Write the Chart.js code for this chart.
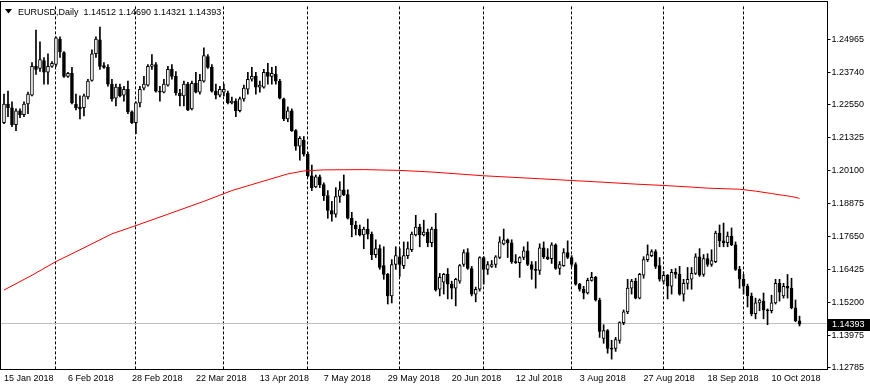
<!DOCTYPE html>
<html>
<head>
<meta charset="utf-8">
<script src="https://cdn.jsdelivr.net/npm/chart.js@4.4.0/dist/chart.umd.min.js"></script>
<style>
  html, body { margin: 0; padding: 0; background: #fff; }
  #wrap { width: 870px; height: 390px; }
</style>
</head>
<body>
<div id="wrap"><canvas id="myChart"></canvas></div>
<script>
// EURUSD daily candles (200 bars from 15 Jan 2018)
var open = [1.2189,1.2258,1.2244,1.2181,1.2233,1.2218,1.2258,1.2291,1.2398,1.2390,
  1.2420,1.2376,1.2398,1.2405,1.2500,1.2449,1.2361,1.2372,1.2258,1.2247,
  1.2244,1.2284,1.2346,1.2445,1.2497,1.2401,1.2394,1.2332,1.2280,1.2321,
  1.2291,1.2313,1.2229,1.2189,1.2262,1.2317,1.2328,1.2398,1.2405,1.2306,
  1.2302,1.2328,1.2387,1.2361,1.2299,1.2288,1.2332,1.2240,1.2335,1.2302,
  1.2343,1.2434,1.2394,1.2306,1.2291,1.2302,1.2299,1.2262,1.2269,1.2233,
  1.2277,1.2313,1.2350,1.2361,1.2321,1.2321,1.2376,1.2361,1.2368,1.2343,
  1.2277,1.2203,1.2233,1.2159,1.2101,1.2123,1.2071,1.1991,1.1950,1.1987,
  1.1958,1.1917,1.1862,1.1848,1.1914,1.1939,1.1921,1.1833,1.1808,1.1793,
  1.1771,1.1793,1.1774,1.1698,1.1720,1.1657,1.1624,1.1544,1.1661,1.1690,
  1.1657,1.1694,1.1716,1.1771,1.1800,1.1771,1.1782,1.1742,1.1793,1.1569,
  1.1595,1.1624,1.1588,1.1573,1.1599,1.1661,1.1705,1.1646,1.1551,1.1569,
  1.1687,1.1643,1.1654,1.1661,1.1687,1.1738,1.1753,1.1742,1.1672,1.1668,
  1.1687,1.1712,1.1661,1.1643,1.1639,1.1723,1.1690,1.1683,1.1734,1.1646,
  1.1657,1.1705,1.1687,1.1661,1.1588,1.1569,1.1555,1.1602,1.1613,1.1529,
  1.1386,1.1415,1.1349,1.1349,1.1379,1.1445,1.1485,1.1573,1.1599,1.1536,
  1.1621,1.1679,1.1694,1.1709,1.1657,1.1599,1.1621,1.1580,1.1632,1.1624,
  1.1551,1.1591,1.1606,1.1628,1.1690,1.1624,1.1683,1.1661,1.1672,1.1778,
  1.1749,1.1742,1.1767,1.1734,1.1643,1.1606,1.1580,1.1544,1.1478,1.1518,
  1.1525,1.1492,1.1489,1.1518,1.1591,1.1544,1.1580,1.1573,1.1500,1.14512];
var high = [1.2295,1.2306,1.2266,1.2240,1.2240,1.2266,1.2302,1.2412,1.2533,1.2489,
  1.2431,1.2445,1.2416,1.2508,1.2508,1.2453,1.2376,1.2394,1.2295,1.2288,
  1.2295,1.2350,1.2460,1.2508,1.2544,1.2412,1.2405,1.2350,1.2332,1.2332,
  1.2324,1.2343,1.2233,1.2266,1.2324,1.2361,1.2405,1.2442,1.2412,1.2324,
  1.2350,1.2398,1.2405,1.2379,1.2313,1.2343,1.2339,1.2343,1.2376,1.2368,
  1.2467,1.2442,1.2405,1.2332,1.2324,1.2332,1.2306,1.2284,1.2277,1.2284,
  1.2328,1.2376,1.2394,1.2376,1.2343,1.2387,1.2409,1.2394,1.2398,1.2350,
  1.2280,1.2247,1.2240,1.2163,1.2137,1.2137,1.2079,1.2031,1.1994,1.1994,
  1.1965,1.1936,1.1896,1.1947,1.1969,1.1994,1.1939,1.1855,1.1822,1.1808,
  1.1800,1.1830,1.1782,1.1753,1.1734,1.1727,1.1628,1.1679,1.1727,1.1720,
  1.1745,1.1745,1.1782,1.1844,1.1811,1.1826,1.1793,1.1800,1.1851,1.1628,
  1.1628,1.1646,1.1599,1.1610,1.1661,1.1716,1.1720,1.1654,1.1577,1.1690,
  1.1690,1.1672,1.1676,1.1694,1.1764,1.1793,1.1756,1.1753,1.1698,1.1690,
  1.1727,1.1745,1.1672,1.1672,1.1738,1.1745,1.1720,1.1742,1.1738,1.1672,
  1.1720,1.1749,1.1694,1.1668,1.1591,1.1580,1.1610,1.1632,1.1617,1.1536,
  1.1437,1.1419,1.1379,1.1390,1.1448,1.1492,1.1606,1.1606,1.1610,1.1628,
  1.1690,1.1734,1.1716,1.1716,1.1687,1.1635,1.1624,1.1643,1.1646,1.1654,
  1.1606,1.1650,1.1650,1.1701,1.1720,1.1698,1.1701,1.1716,1.1785,1.1808,
  1.1815,1.1782,1.1797,1.1745,1.1654,1.1624,1.1588,1.1555,1.1536,1.1533,
  1.1555,1.1496,1.1547,1.1606,1.1606,1.1591,1.1624,1.1610,1.1529,1.14690];
var low = [1.2185,1.2211,1.2174,1.2159,1.2207,1.2211,1.2222,1.2288,1.2368,1.2379,
  1.2332,1.2332,1.2394,1.2398,1.2431,1.2357,1.2357,1.2258,1.2236,1.2203,
  1.2214,1.2277,1.2343,1.2431,1.2387,1.2390,1.2324,1.2269,1.2251,1.2284,
  1.2269,1.2222,1.2185,1.2148,1.2247,1.2310,1.2324,1.2387,1.2302,1.2269,
  1.2299,1.2324,1.2350,1.2291,1.2251,1.2251,1.2233,1.2236,1.2299,1.2295,
  1.2339,1.2390,1.2302,1.2277,1.2284,1.2288,1.2258,1.2258,1.2211,1.2229,
  1.2269,1.2295,1.2343,1.2295,1.2302,1.2317,1.2332,1.2332,1.2332,1.2277,
  1.2196,1.2192,1.2156,1.2086,1.2049,1.2064,1.1987,1.1936,1.1947,1.1947,
  1.1899,1.1833,1.1822,1.1837,1.1892,1.1917,1.1830,1.1764,1.1771,1.1767,
  1.1720,1.1756,1.1679,1.1687,1.1643,1.1606,1.1514,1.1518,1.1643,1.1617,
  1.1646,1.1683,1.1709,1.1767,1.1727,1.1767,1.1727,1.1727,1.1562,1.1544,
  1.1551,1.1533,1.1533,1.1507,1.1591,1.1654,1.1643,1.1544,1.1522,1.1562,
  1.1588,1.1624,1.1650,1.1650,1.1683,1.1734,1.1687,1.1665,1.1665,1.1613,
  1.1679,1.1657,1.1606,1.1573,1.1624,1.1683,1.1679,1.1665,1.1643,1.1624,
  1.1654,1.1683,1.1654,1.1584,1.1562,1.1533,1.1551,1.1599,1.1525,1.1390,
  1.1368,1.1331,1.1309,1.1338,1.1368,1.1437,1.1478,1.1551,1.1533,1.1533,
  1.1610,1.1672,1.1690,1.1646,1.1599,1.1588,1.1533,1.1551,1.1610,1.1547,
  1.1525,1.1569,1.1569,1.1624,1.1617,1.1617,1.1654,1.1654,1.1668,1.1727,
  1.1727,1.1727,1.1731,1.1639,1.1573,1.1551,1.1503,1.1470,1.1459,1.1489,
  1.1459,1.1437,1.1481,1.1514,1.1525,1.1536,1.1536,1.1496,1.1448,1.14321];
var close = [1.2258,1.2244,1.2181,1.2233,1.2218,1.2258,1.2295,1.2398,1.2387,1.2423,
  1.2376,1.2398,1.2409,1.2504,1.2453,1.2361,1.2372,1.2262,1.2244,1.2240,
  1.2288,1.2343,1.2445,1.2500,1.2398,1.2394,1.2332,1.2277,1.2321,1.2288,
  1.2313,1.2229,1.2189,1.2262,1.2313,1.2332,1.2398,1.2405,1.2306,1.2302,
  1.2332,1.2387,1.2361,1.2299,1.2288,1.2332,1.2236,1.2335,1.2302,1.2346,
  1.2438,1.2394,1.2306,1.2291,1.2313,1.2313,1.2262,1.2269,1.2233,1.2277,
  1.2317,1.2350,1.2361,1.2321,1.2328,1.2376,1.2361,1.2372,1.2343,1.2280,
  1.2203,1.2233,1.2159,1.2101,1.2130,1.2071,1.1991,1.1947,1.1987,1.1958,
  1.1917,1.1862,1.1848,1.1914,1.1939,1.1921,1.1833,1.1808,1.1793,1.1771,
  1.1793,1.1774,1.1698,1.1720,1.1650,1.1624,1.1544,1.1661,1.1694,1.1661,
  1.1694,1.1720,1.1774,1.1800,1.1771,1.1782,1.1742,1.1793,1.1566,1.1613,
  1.1624,1.1588,1.1573,1.1606,1.1657,1.1705,1.1646,1.1551,1.1569,1.1687,
  1.1643,1.1661,1.1661,1.1690,1.1745,1.1753,1.1742,1.1672,1.1668,1.1687,
  1.1712,1.1661,1.1643,1.1639,1.1723,1.1690,1.1683,1.1734,1.1646,1.1661,
  1.1705,1.1687,1.1661,1.1588,1.1569,1.1555,1.1602,1.1613,1.1529,1.1412,
  1.1415,1.1349,1.1346,1.1382,1.1445,1.1485,1.1573,1.1599,1.1536,1.1624,
  1.1679,1.1698,1.1709,1.1654,1.1606,1.1621,1.1580,1.1632,1.1624,1.1551,
  1.1591,1.1606,1.1628,1.1690,1.1621,1.1683,1.1661,1.1676,1.1778,1.1749,
  1.1742,1.1767,1.1734,1.1643,1.1606,1.1580,1.1544,1.1478,1.1518,1.1529,
  1.1492,1.1489,1.1518,1.1591,1.1558,1.1580,1.1573,1.1500,1.1452,1.14393];

// red moving average, read at these bar numbers
var maBar = [0,7,13,20,27,34,41,50,57,66,71,75,80,90,99,107,120,134,150,158,165,172,176,184,188,192,195,197,199];
var maValue = [1.1566,1.1621,1.1672,1.1723,1.1775,1.1811,1.1848,1.1896,1.1936,1.1976,1.1998,1.2009,1.2013,1.2014,1.2011,1.2005,1.1991,1.1980,1.1967,1.1960,1.1955,1.1949,1.1945,1.1941,1.1934,1.1925,1.1918,1.1914,1.1907];

var yTicks = [1.24965,1.23740,1.22550,1.21325,1.20100,1.18875,1.17650,1.16425,1.15200,1.13975,1.12785];
var tickLabels = ["15 Jan 2018","6 Feb 2018","28 Feb 2018","22 Mar 2018","13 Apr 2018","7 May 2018","29 May 2018",
  "20 Jun 2018","12 Jul 2018","3 Aug 2018","27 Aug 2018","18 Sep 2018","10 Oct 2018"];
var title = "EURUSD,Daily  1.14512 1.14690 1.14321 1.14393";

var monthNames = ["Jan","Feb","Mar","Apr","May","Jun","Jul","Aug","Sep","Oct","Nov","Dec"];
var dates = [];
var d = new Date(Date.UTC(2018, 0, 15));
while (dates.length < open.length) {
  var wd = d.getUTCDay();
  if (wd != 0 && wd != 6) dates.push(d.getUTCDate() + " " + monthNames[d.getUTCMonth()] + " " + d.getUTCFullYear());
  d.setUTCDate(d.getUTCDate() + 1);
}
// empty room on the right like the terminal shift
var labels = dates.concat(["", "", "", "", "", "", ""]);

function monthStart(i) {
  if (i < 1 || i >= dates.length) return false;
  return dates[i].split(" ")[1] != dates[i - 1].split(" ")[1];
}

var FONT = "Liberation Sans";

var mtPlugin = {
  id: "mt",
  beforeDatasetsDraw: function (chart) {
    var ctx = chart.ctx, a = chart.chartArea;
    var y = Math.round(chart.scales.y.getPixelForValue(close[close.length - 1])) - 0.5;
    ctx.save();
    ctx.strokeStyle = "#c0c0c0";
    ctx.lineWidth = 1;
    ctx.beginPath();
    ctx.moveTo(0, y);
    ctx.lineTo(a.right + 1, y);
    ctx.stroke();
    ctx.restore();
  },
  afterDraw: function (chart) {
    var ctx = chart.ctx, a = chart.chartArea;
    ctx.save();
    ctx.strokeStyle = "#000";
    ctx.lineWidth = 1;
    ctx.strokeRect(0.5, 1.5, 827, 368);
    // title
    ctx.fillStyle = "#000";
    ctx.beginPath();
    ctx.moveTo(5, 9); ctx.lineTo(12, 9); ctx.lineTo(8.5, 13.5); ctx.closePath();
    ctx.fill();
    ctx.font = "9px '" + FONT + "'";
    ctx.textBaseline = "alphabetic";
    ctx.fillText(title, 18, 15);
    // current price box
    var y = Math.round(chart.scales.y.getPixelForValue(close[close.length - 1]));
    ctx.fillRect(828, y - 5, 42, 12);
    ctx.fillStyle = "#fff";
    ctx.textBaseline = "middle";
    ctx.fillText(close[close.length - 1].toFixed(5), 832, y + 1);
    ctx.restore();
  }
};

var ctx = document.getElementById("myChart");
var myChart = new Chart(ctx, {
  type: "bar",
  data: {
    labels: labels,
    datasets: [
      {
        type: "line",
        data: maBar.map(function (b, k) { return { x: dates[b], y: maValue[k] }; }),
        borderColor: "#ff0000",
        borderWidth: 1,
        pointRadius: 0,
        tension: 0,
        fill: false,
        order: 0
      },
      {
        data: open.map(function (o, i) { return [o, close[i]]; }),
        backgroundColor: function (c) { return close[c.dataIndex] >= open[c.dataIndex] ? "#ffffff" : "#000000"; },
        borderColor: "#000",
        borderWidth: 1,
        borderSkipped: false,
        barThickness: 3,
        minBarLength: 1,
        grouped: false,
        clip: false,
        order: 1
      },
      {
        data: low.map(function (l, i) { return [l, high[i]]; }),
        backgroundColor: "#000",
        borderWidth: 0,
        barThickness: 1,
        grouped: false,
        clip: false,
        order: 2
      }
    ]
  },
  options: {
    responsive: true,
    maintainAspectRatio: false,
    animation: false,
    layout: { padding: { left: 3.5, top: 1, right: 0, bottom: 0 } },
    plugins: { legend: { display: false }, tooltip: { enabled: false } },
    scales: {
      x: {
        type: "category",
        offset: false,
        border: { display: false, dash: [3, 2] },
        grid: {
          offset: false,
          drawTicks: false,
          lineWidth: 1,
          color: function (c) { return monthStart(c.index) ? "#000" : "rgba(0,0,0,0)"; }
        },
        ticks: {
          autoSkip: false,
          maxRotation: 0,
          minRotation: 0,
          align: "start",
          padding: 4,
          color: "#000",
          font: { family: FONT, size: 9 },
          callback: function (v) {
            var l = this.getLabelForValue(v);
            return tickLabels.indexOf(l) >= 0 ? l : "";
          }
        },
        afterFit: function (s) { s.height = 21; }
      },
      y: {
        position: "right",
        min: 1.12723,
        max: 1.26211,
        border: { display: false },
        grid: { drawOnChartArea: false, drawTicks: true, tickLength: 3, tickColor: "#000" },
        ticks: {
          padding: 1,
          color: "#000",
          font: { family: FONT, size: 9 },
          callback: function (v) { return v.toFixed(5); }
        },
        afterBuildTicks: function (s) { s.ticks = yTicks.map(function (v) { return { value: v }; }); },
        afterFit: function (s) { s.width = 42.5; }
      }
    }
  },
  plugins: [mtPlugin]
});
</script>
</body>
</html>
